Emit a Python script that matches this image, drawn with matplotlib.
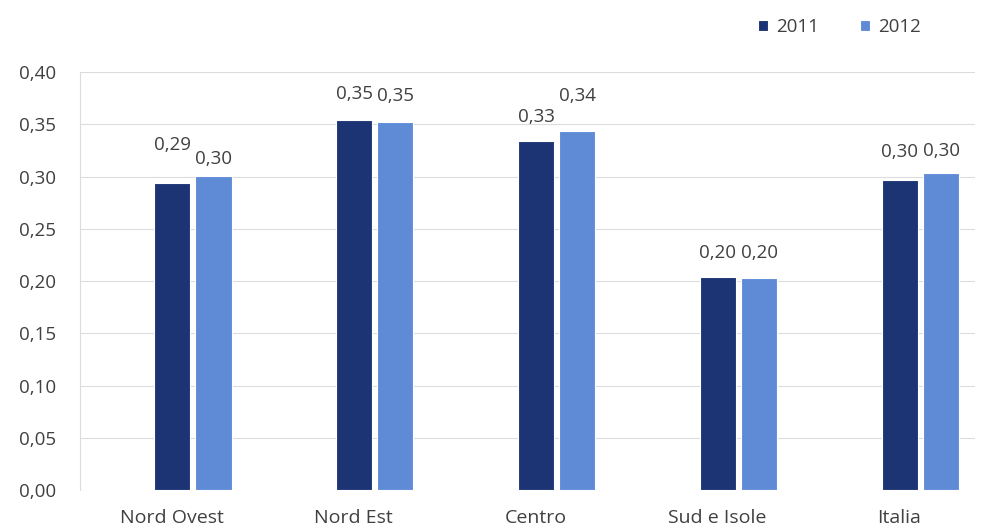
import matplotlib
matplotlib.use("Agg")
import matplotlib.pyplot as plt
import matplotlib.transforms as mtransforms
import numpy as np

# Data
categories = ["Nord Ovest", "Nord Est", "Centro", "Sud e Isole", "Italia"]
years = ["2011", "2012"]
values_2011 = [0.294, 0.354, 0.334, 0.204, 0.297]
values_2012 = [0.301, 0.352, 0.344, 0.203, 0.303]

COLORS = ["#1c3474", "#5f8bd6"]
TEXT = "#404040"

plt.rcParams["font.family"] = ["Open Sans", "DejaVu Sans"]

fig = plt.figure(figsize=(9.83, 5.30), dpi=100)
ax = fig.add_axes([0.0814, 0.0755, 0.9105, 0.7885])

x = np.arange(len(categories))
width = 0.2
offset = 0.113

# distance (points) from bar top to the centre of its value label
label_dy = [[27, 19, 17, 17, 20], [12, 19, 25, 18, 16]]

for i, (vals, col) in enumerate(zip([values_2011, values_2012], COLORS)):
    pos = x + (i - 0.5) * 2 * offset
    bars = ax.bar(pos, vals, width, color=col, edgecolor="white",
                  linewidth=0.8, label=years[i], zorder=3)
    for j, (b, v) in enumerate(zip(bars, vals)):
        ax.annotate(f"{v:.2f}".replace(".", ","),
                    (b.get_x() + b.get_width() / 2, v),
                    xytext=(0, label_dy[i][j]), textcoords="offset points",
                    ha="center", va="center", fontsize=13.5, color=TEXT)

ticks = np.arange(0, 0.401, 0.05)
ax.set_xlim(-0.62, 4.30)
ax.set_ylim(0, 0.40)
ax.set_yticks(ticks)
ax.set_yticklabels([f"{t:.2f}".replace(".", ",") for t in ticks],
                   fontsize=13.5, color=TEXT)
ax.set_xticks(x)
ax.set_xticklabels(categories, fontsize=14, color=TEXT)
ax.tick_params(axis="x", length=0, pad=14)
ax.tick_params(axis="y", length=0, pad=17)

# category names sit a little left of their bar pairs
shift = mtransforms.ScaledTranslation(-0.21, 0, fig.dpi_scale_trans)
for lbl in ax.get_xticklabels():
    lbl.set_transform(lbl.get_transform() + shift)

ax.grid(axis="y", color="#dcdcdc", linewidth=0.8, zorder=0)
for s in ["top", "right", "bottom"]:
    ax.spines[s].set_visible(False)
ax.spines["left"].set_color("#dcdcdc")

ax.legend(loc="center right", bbox_to_anchor=(0.958, 1.108), ncol=2, frameon=False,
          fontsize=13.5, handlelength=0.55, handleheight=0.55, handletextpad=0.4,
          columnspacing=2.2, labelcolor=TEXT)

fig.savefig("out.png", dpi=100)
